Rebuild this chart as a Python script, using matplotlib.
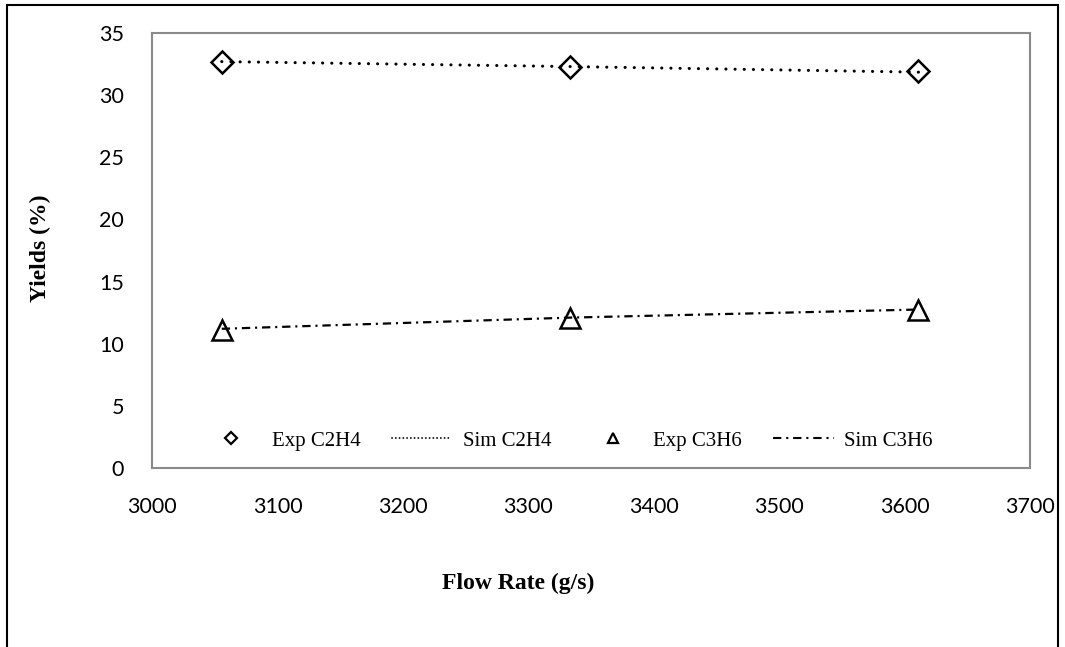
import matplotlib
matplotlib.use("Agg")
import numpy as np
import matplotlib.pyplot as plt
from matplotlib.lines import Line2D
from matplotlib.patches import Rectangle
from matplotlib.legend_handler import HandlerLine2D

# ---- data ----
flow_rate = [3055.6, 3333.3, 3611.1]
exp_c2h4 = [32.7, 32.3, 31.95]
sim_c2h4 = [32.7, 32.3, 31.85]
exp_c3h6 = [11.1, 12.1, 12.7]
sim_c3h6 = [11.2, 12.1, 12.75]
x_ticks = [3000, 3100, 3200, 3300, 3400, 3500, 3600, 3700]
y_ticks = [0, 5, 10, 15, 20, 25, 30, 35]
series_names = ["Exp C2H4", "Sim C2H4", "Exp C3H6", "Sim C3H6"]

plt.rcParams["lines.scale_dashes"] = False

W, H = 1065, 647
fig = plt.figure(figsize=(W / 100, H / 100), dpi=100)
fig.patch.set_facecolor("white")

# outer chart border
fig.patches.append(Rectangle((7 / W, -0.02), (1058 - 7) / W, (H - 5) / H + 0.02,
                             transform=fig.transFigure, fill=False,
                             edgecolor="black", lw=1.5))

top_px, bot_px = 33, 468
ax = fig.add_axes([152 / W, (H - bot_px) / H, (1030 - 152) / W, (bot_px - top_px) / H])

ax.plot(flow_rate, sim_c2h4, color="black", lw=2.2,
        dashes=[0.1, 6.5], dash_capstyle="round", zorder=2)
ax.plot(flow_rate, exp_c2h4, linestyle="none", marker="D", markersize=11,
        markerfacecolor="none", markeredgecolor="black", markeredgewidth=1.8, zorder=3)
ax.plot(flow_rate, sim_c3h6, color="black", lw=1.6,
        dashes=[6, 3.5, 1.5, 3.5], zorder=2)
ax.plot(flow_rate, exp_c3h6, linestyle="none", marker="^", markersize=15,
        markerfacecolor="none", markeredgecolor="black", markeredgewidth=1.8, zorder=3)

ax.set_xlim(3000, 3700)
ax.set_ylim(0, 35)
ax.set_xticks(x_ticks)
ax.set_yticks(y_ticks)
ax.tick_params(length=0, labelsize=15.5, pad=20)
ax.tick_params(axis="x", pad=21)
for lab in ax.get_xticklabels() + ax.get_yticklabels():
    lab.set_family(["Lato", "DejaVu Sans"])

for sp in ax.spines.values():
    sp.set_color("#8a8a8a")
    sp.set_linewidth(1.5)

fig.text(40 / W, 1 - 248 / H, "Yields (%)", rotation=90, ha="center", va="center",
         family="Liberation Serif", fontweight="bold", fontsize=17)
fig.text(518 / W, 1 - 583 / H, "Flow Rate (g/s)", ha="center", va="center",
         family="Liberation Serif", fontweight="bold", fontsize=17)


class LeftMarkerHandler(HandlerLine2D):
    def get_xdata(self, legend, xdescent, ydescent, width, height, fontsize):
        xdata = np.linspace(-xdescent, -xdescent + width, 2)
        return xdata, np.array([-xdescent + 0.2 * width])


handles = [
    Line2D([], [], linestyle="none", marker="D", markersize=6, markerfacecolor="none",
           markeredgecolor="black", markeredgewidth=1.6),
    Line2D([], [], color="black", lw=1.3, dashes=[0.1, 2.6], dash_capstyle="round"),
    Line2D([], [], linestyle="none", marker="^", markersize=7, markerfacecolor="none",
           markeredgecolor="black", markeredgewidth=1.6),
    Line2D([], [], color="black", lw=1.5, dashes=[6, 3.5, 1.5, 3.5]),
]
hmap = {handles[0]: LeftMarkerHandler(numpoints=1), handles[2]: LeftMarkerHandler(numpoints=1)}
leg = ax.legend(handles, series_names, ncol=4, frameon=False, loc="center left",
                bbox_to_anchor=((201 - 152) / 878, (bot_px - 441) / (bot_px - top_px)),
                prop={"family": "Liberation Serif", "size": 15},
                handlelength=2.9, handletextpad=0.5, columnspacing=1.5,
                handler_map=hmap, borderpad=0, borderaxespad=0)

fig.savefig("out.png", dpi=100, facecolor="white")
